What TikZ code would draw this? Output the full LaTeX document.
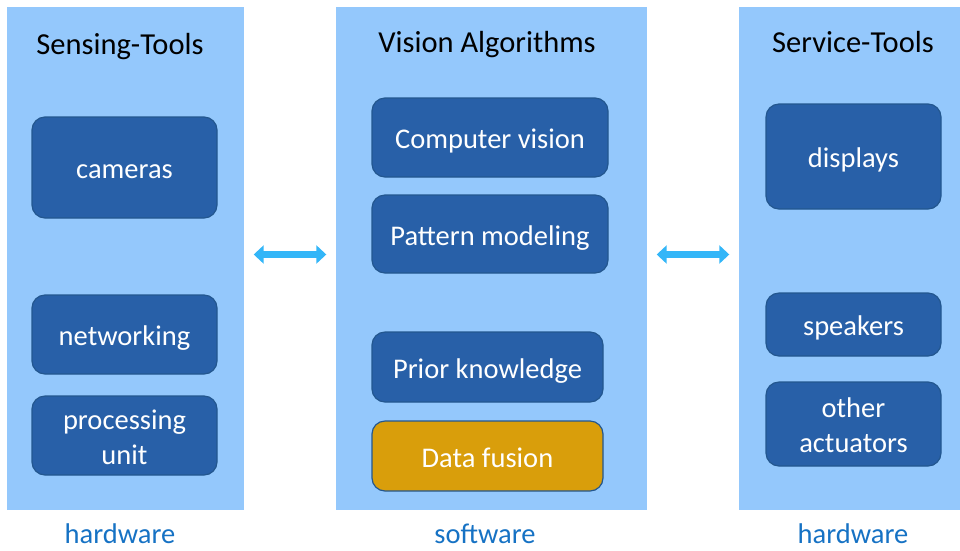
\documentclass[tikz,border=0pt]{standalone}
\usepackage{fontspec}
\setmainfont{Carlito}
\usetikzlibrary{arrows.meta}

\definecolor{panelblue}{HTML}{94C8FC}
\definecolor{boxblue}{HTML}{2860A8}
\definecolor{boxedge}{HTML}{23578F}
\definecolor{fusiongold}{HTML}{D99E0B}
\definecolor{arrowblue}{HTML}{33B6F8}
\definecolor{labelblue}{HTML}{1672C4}

% invisible strut that fixes where a line of box text sits
\newcommand{\boxstrut}{\rule[-6pt]{0pt}{34pt}}

\begin{document}
\begin{tikzpicture}[x=1pt,y=-1pt,
  panel/.style={rectangle, fill=panelblue, draw=none, inner sep=0pt},
  title/.style={anchor=base, text=black, font=\fontsize{30.5}{36}\selectfont},
  layer/.style={anchor=base, text=labelblue, font=\fontsize{28.5}{33}\selectfont},
  box/.style={rectangle, rounded corners=13pt, fill=boxblue, draw=boxedge,
    line width=1.2pt, inner sep=0pt, text=white, align=center,
    font=\fontsize{28.5}{33}\selectfont},
  onebox/.style={box, execute at begin node=\boxstrut, execute at end node=\boxstrut},
  goldbox/.style={onebox, fill=fusiongold},
  link/.style={draw=arrowblue, line width=7pt, shorten <=9.5pt, shorten >=9.5pt,
    {Triangle[length=10pt,width=18pt]}-{Triangle[length=10pt,width=18pt]}}
]
\useasboundingbox (0,0) rectangle (960,550);

% three columns
\node[panel, minimum width=237, minimum height=503] (sense) at (125.5,258.5) {};
\node[panel, minimum width=311, minimum height=503] (vision) at (491.5,258.5) {};
\node[panel, minimum width=221, minimum height=503] (service) at (849.5,258.5) {};

% column headings
\node[title] (senseT) at (120,54) {Sensing-Tools};
\node[title] (visionT) at (487,52) {Vision Algorithms};
\node[title] (serviceT) at (853,52) {Service-Tools};

% sensing tools
\node[onebox, minimum width=185, minimum height=101] (cam) at (124.5,167.5) {cameras};
\node[onebox, minimum width=185, minimum height=79] (net) at (124.5,334.5) {networking};
\node[box, minimum width=185, minimum height=79] (proc) at (124.5,435.5) {\boxstrut processing\\unit\boxstrut};

% vision algorithms
\node[onebox, minimum width=236, minimum height=79] (cv) at (490,137.5) {Computer vision};
\node[onebox, minimum width=236, minimum height=78] (pm) at (490,234) {Pattern modeling};
\node[onebox, minimum width=231, minimum height=70] (pk) at (487.5,367) {Prior knowledge};
\node[goldbox, minimum width=231, minimum height=70] (df) at (487.5,456) {Data fusion};

% service tools
\node[onebox, minimum width=175, minimum height=105] (disp) at (853.5,156.5) {displays};
\node[onebox, minimum width=175, minimum height=63] (spk) at (853.5,324.5) {speakers};
\node[box, minimum width=175, minimum height=84] (act) at (853.5,424) {\boxstrut other\\actuators\boxstrut};

% layer labels
\node[layer] (hwL) at (120,543) {hardware};
\node[layer] (swL) at (485,543) {software};
\node[layer] (hwR) at (853,543) {hardware};

% two-way links between columns
\coordinate (linkrow) at (0,254.5);
\draw[link] (sense.east |- linkrow) -- (vision.west |- linkrow);
\draw[link] (vision.east |- linkrow) -- (service.west |- linkrow);
\end{tikzpicture}
\end{document}
